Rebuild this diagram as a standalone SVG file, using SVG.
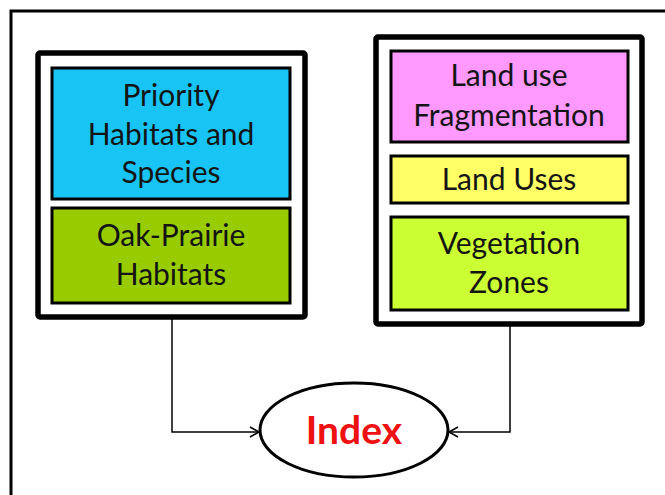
<svg xmlns="http://www.w3.org/2000/svg" width="665" height="495" viewBox="0 0 665 495">
<style>
.frame{fill:none;stroke:#000;stroke-width:3}
.outer{fill:#fff;stroke:#000;stroke-width:5.5}
.inner{stroke:#000;stroke-width:3}
.t{font-family:Lato,"Open Sans","Liberation Sans",sans-serif;font-size:30px;fill:#141414;text-anchor:middle}
.conn{fill:none;stroke:#000;stroke-width:1.5}
</style>
<defs>
<marker id="arr" markerWidth="12" markerHeight="12" refX="10" refY="6" orient="auto" markerUnits="userSpaceOnUse">
<path d="M1,1 L10,6 L1,11" fill="none" stroke="#000" stroke-width="1.5"/>
</marker>
</defs>
<rect width="665" height="495" fill="#fff"/>
<path class="frame" d="M11,495 V11 H665"/>
<g id="left-group">
<rect class="outer" x="38" y="53" width="267" height="264" rx="2"/>
<g id="priority">
<rect class="inner" x="52" y="68" width="238" height="131" fill="#17C4F4"/>
<text class="t" x="171" y="106">Priority</text>
<text class="t" x="171" y="145">Habitats and</text>
<text class="t" x="171" y="183">Species</text>
</g>
<g id="oak">
<rect class="inner" x="52" y="208" width="238" height="95" fill="#99CC00"/>
<text class="t" x="171" y="246">Oak-Prairie</text>
<text class="t" x="171" y="285">Habitats</text>
</g>
</g>
<g id="right-group">
<rect class="outer" x="376" y="37" width="266" height="287" rx="2"/>
<g id="fragmentation">
<rect class="inner" x="391" y="51" width="237" height="91" fill="#FF99FF"/>
<text class="t" x="509" y="86">Land use</text>
<text class="t" x="509" y="126">Fragmentation</text>
</g>
<g id="landuses">
<rect class="inner" x="391" y="156" width="237" height="47" fill="#FFFF66"/>
<text class="t" x="509" y="190">Land Uses</text>
</g>
<g id="vegetation">
<rect class="inner" x="391" y="217" width="237" height="93" fill="#CCFF33"/>
<text class="t" x="509" y="254">Vegetation</text>
<text class="t" x="509" y="293">Zones</text>
</g>
</g>
<g id="index">
<ellipse cx="354" cy="430" rx="94" ry="47" fill="#fff" stroke="#000" stroke-width="3"/>
<text x="354" y="444" font-family="Lato,'Open Sans','Liberation Sans',sans-serif" font-size="39" font-weight="bold" fill="#EE1111" text-anchor="middle">Index</text>
</g>
<g id="connectors">
<path class="conn" d="M172,319 V432 H259" marker-end="url(#arr)"/>
<path class="conn" d="M510,326 V432 H449" marker-end="url(#arr)"/>
</g>
</svg>
